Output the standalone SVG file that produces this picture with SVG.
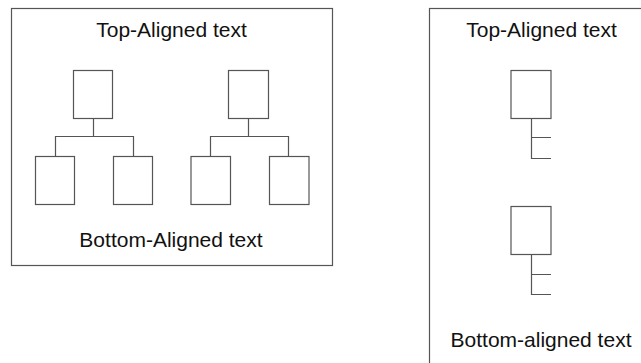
<svg xmlns="http://www.w3.org/2000/svg" width="641" height="363" viewBox="0 0 641 363">
<style>
.frame{fill:#ffffff;stroke:#555555;stroke-width:1.2}
.box{fill:#ffffff;stroke:#555555;stroke-width:1.2}
.conn{fill:none;stroke:#555555;stroke-width:1.2}
.lbl{font-family:"Liberation Sans",Arial,sans-serif;font-size:21px;fill:#111111;text-anchor:middle}
</style>
<rect width="641" height="363" fill="#ffffff"/>
<g id="frame-left">
<rect class="frame" x="11.5" y="8.5" width="321" height="257"/>
<text class="lbl" x="171.5" y="37">Top-Aligned text</text>
<text class="lbl" x="171" y="246.5">Bottom-Aligned text</text>
</g>
<g id="frame-right">
<rect class="frame" x="429.5" y="8.5" width="225" height="357"/>
<text class="lbl" x="541.5" y="37">Top-Aligned text</text>
<text class="lbl" x="541" y="346.5">Bottom-aligned text</text>
</g>
<g id="connectors">
<path class="conn" d="M93.5,118.5 V136.5 M55.5,156.5 V136.5 H133.5 V156.5"/>
<path class="conn" d="M248.5,118.5 V136.5 M210.5,156.5 V136.5 H288.5 V156.5"/>
<path class="conn" d="M531.5,118.5 V158.5 H551 M531.5,137.5 H551"/>
<path class="conn" d="M531.5,254.5 V294.5 H551 M531.5,274.5 H551"/>
</g>
<g id="t1-root"><rect class="box" x="73.5" y="70.5" width="39" height="48"/></g>
<g id="t1-left"><rect class="box" x="35.5" y="156.5" width="39" height="48"/></g>
<g id="t1-right"><rect class="box" x="113.5" y="156.5" width="39" height="48"/></g>
<g id="t2-root"><rect class="box" x="228.5" y="70.5" width="40" height="48"/></g>
<g id="t2-left"><rect class="box" x="191" y="156.5" width="39.5" height="48"/></g>
<g id="t2-right"><rect class="box" x="269.5" y="156.5" width="39.5" height="48"/></g>
<g id="r1-root"><rect class="box" x="511" y="70.5" width="40" height="48"/></g>
<g id="r2-root"><rect class="box" x="511" y="206.5" width="40" height="48"/></g>
</svg>
